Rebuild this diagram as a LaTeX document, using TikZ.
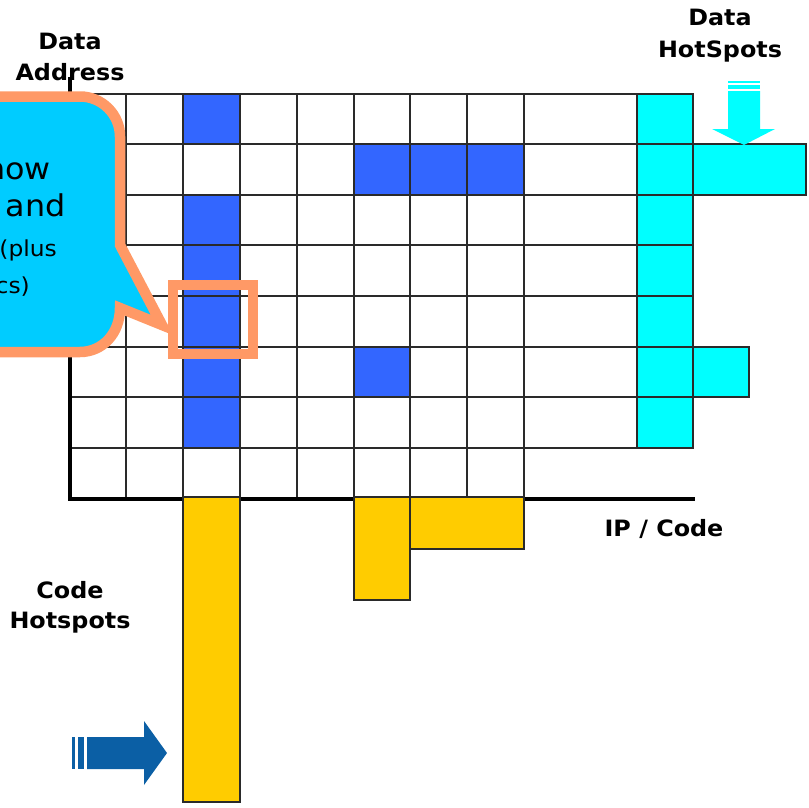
\documentclass[tikz,border=0pt]{standalone}
\usepackage{fontspec}
\setmainfont{DejaVu Sans}[FakeStretch=1.06]
\definecolor{cellblue}{HTML}{3366FF}
\definecolor{hotcyan}{HTML}{00FFFF}
\definecolor{bargold}{HTML}{FFCC00}
\definecolor{calloutfill}{HTML}{00CCFF}
\definecolor{calloutedge}{HTML}{FF9966}
\definecolor{arrowblue}{HTML}{0B5FA5}
\definecolor{gridline}{HTML}{2A2A2A}
\begin{document}
\begin{tikzpicture}[x=1pt,y=-1pt,
  cell/.style={draw=gridline,line width=1.2pt},
  axisline/.style={line width=4pt,line join=miter},
  lbl/.style={font=\fontsize{22.5}{26}\selectfont\bfseries,inner sep=0pt},
  bigtxt/.style={font=\fontsize{30}{34}\selectfont,inner sep=0pt,anchor=base east},
  smalltxt/.style={font=\fontsize{22}{26}\selectfont,inner sep=0pt,anchor=base east}]
\useasboundingbox (0,0) rectangle (808,808);

% plain grid, rows 1-7
\foreach \xa/\xb in {70/126,126/183,183/240,240/297,297/354,354/410,410/467,467/524,524/637}
  \foreach \ya/\yb in {94/144,144/195,195/245,245/296,296/347,347/397,397/448}
    \draw[cell] (\xa,\ya) rectangle (\xb,\yb);
% last row
\foreach \xa/\xb in {70/126,126/183,183/240,240/297,297/354,354/410,410/467,467/524}
  \draw[cell] (\xa,448) rectangle (\xb,499);

% accessed cells
\foreach \ya/\yb in {94/144,195/245,245/296,296/347,347/397,397/448}
  \filldraw[cell,fill=cellblue] (183,\ya) rectangle (240,\yb);
\foreach \xa/\xb in {354/410,410/467,467/524}
  \filldraw[cell,fill=cellblue] (\xa,144) rectangle (\xb,195);
\filldraw[cell,fill=cellblue] (354,347) rectangle (410,397);

% data hotspot column
\foreach \ya/\yb in {94/144,144/195,195/245,245/296,296/347,347/397,397/448}
  \filldraw[cell,fill=hotcyan] (637,\ya) rectangle (693,\yb);
\filldraw[cell,fill=hotcyan] (693,144) rectangle (806,195);
\filldraw[cell,fill=hotcyan] (693,347) rectangle (749,397);

% axes
\draw[axisline] (70,77) -- (70,499) -- (695,499);

% code hotspot bars
\filldraw[cell,fill=bargold] (183,497) rectangle (240,802);
\filldraw[cell,fill=bargold] (354,497) rectangle (410,600);
\filldraw[cell,fill=bargold] (410,497) rectangle (524,549);

% highlighted cell
\draw[calloutedge,line width=10pt] (173,285) rectangle (253,354);

% callout bubble
\filldraw[fill=calloutfill,draw=calloutedge,line width=10.5pt,line join=miter]
  (-60,96.5) -- (80,96.5) .. controls (102,96.5) and (120,114.5) .. (120,136.5)
  -- (120,245) -- (162,325) -- (120,308)
  .. controls (120,334) and (102,352) .. (80,352) -- (-60,352) -- cycle;
\node[bigtxt] (t1) at (51,179) {how};
\node[bigtxt] (t2) at (66,216) {and};
\node[smalltxt] (t3) at (57,256) {(plus};
\node[smalltxt] (t4) at (30,293) {cs)};

% pointer arrows
\fill[arrowblue] (72,737) rectangle (75,769);
\fill[arrowblue] (78,737) rectangle (84,769);
\fill[arrowblue] (87,737) -- (144,737) -- (144,721) -- (167,753) -- (144,785)
  -- (144,769) -- (87,769) -- cycle;
\fill[hotcyan] (728,81) rectangle (760,83);
\fill[hotcyan] (728,85) rectangle (760,89);
\fill[hotcyan] (728,91) -- (728,129) -- (712,129) -- (744,145) -- (775,129)
  -- (760,129) -- (760,91) -- cycle;

% labels
\node[lbl,anchor=base] (da1) at (70,50) {Data};
\node[lbl,anchor=base] (da2) at (70,81) {Address};
\node[lbl,anchor=base] (dh1) at (720,26) {Data};
\node[lbl,anchor=base] (dh2) at (720,57) {HotSpots};
\node[lbl,anchor=base] (ch1) at (70,598) {Code};
\node[lbl,anchor=base] (ch2) at (70,628) {Hotspots};
\node[lbl,anchor=base] (ip) at (664,536) {IP / Code};
\end{tikzpicture}
\end{document}
